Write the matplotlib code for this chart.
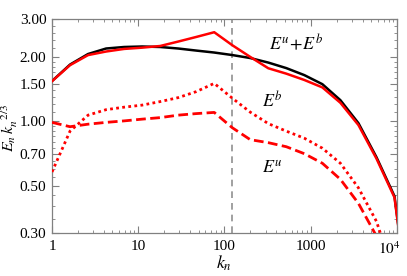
import numpy as np
import matplotlib
matplotlib.use("Agg")
import matplotlib.pyplot as plt
import matplotlib.transforms as mtransforms
from matplotlib.ticker import FixedLocator, NullFormatter

plt.rcParams['font.family'] = ['Liberation Serif', 'DejaVu Serif']
plt.rcParams['mathtext.fontset'] = 'stix'

phi = (1 + 5 ** 0.5) / 2
n = np.arange(0, 21)
k = phi ** n

total_black = [1.542, 1.842, 2.064, 2.19, 2.226, 2.238, 2.226, 2.19, 2.142, 2.097, 2.041,
               1.976, 1.882, 1.773, 1.644, 1.491, 1.255, 0.980, 0.679, 0.446, 0.102]
total_red = [1.54, 1.83, 2.04, 2.12, 2.18, 2.21, 2.25, 2.36, 2.48, 2.61, 2.27,
             2.00, 1.77, 1.67, 1.56, 1.44, 1.22, 0.96, 0.669, 0.44, 0.10]
mag_red = [0.579, 0.899, 1.068, 1.133, 1.164, 1.19, 1.236, 1.29, 1.376, 1.504, 1.283,
           1.103, 0.975, 0.899, 0.833, 0.748, 0.636, 0.488, 0.340, 0.19, 0.06]
kin_red = [0.988, 0.943, 0.969, 0.988, 1.004, 1.023, 1.04, 1.068, 1.086, 1.10, 0.933,
           0.82, 0.794, 0.76, 0.705, 0.636, 0.535, 0.413, 0.29, 0.15, 0.04]

k_line = phi ** 10

yticks = [0.30, 0.50, 0.70, 1.00, 1.50, 2.00, 3.00]
ytick_labels = ["0.30", "0.50", "0.70", "1.00", "1.50", "2.00", "3.00"]
xticks = [1, 10, 100, 1000, 10000]
xtick_labels = ["1", "10", "100", "1000", r"$10^4$"]

fig = plt.figure(figsize=(4.07, 2.76), dpi=100)
ax = fig.add_axes([52/407, 1-233/276, (397-52)/407, (233-19.3)/276])
ax.set_xscale('log')
ax.set_yscale('log')
ax.set_xlim(1, 1e4)
ax.set_ylim(0.3, 3.0)

ax.axvline(k_line, color='#909090', lw=1.2, ls=(0, (4, 3)), zorder=1)
ax.plot(k, total_black, color='black', lw=1.8, zorder=2)
ax.plot(k, total_red, color='red', lw=1.8, zorder=3)
ax.plot(k, mag_red, color='red', lw=2.0, ls=(0, (1, 1.2)), zorder=3)
ax.plot(k, kin_red, color='red', lw=2.0, ls=(0, (3.5, 1.6)), zorder=3)

ax.text(680, 2.32, r"$E^u\!+\!E^b$", fontsize=13, ha='center', va='center')
ax.text(356, 1.24, r"$E^b$", fontsize=13, ha='center', va='center')
ax.text(356, 0.60, r"$E^u$", fontsize=13, ha='center', va='center')

ax.yaxis.set_major_locator(FixedLocator(yticks))
ax.set_yticklabels(ytick_labels)
ymin = [0.35, 0.4, 0.45, 0.55, 0.6, 0.65, 0.75, 0.8, 0.85, 0.9, 0.95,
        1.1, 1.2, 1.3, 1.4, 1.6, 1.7, 1.8, 1.9, 2.2, 2.4, 2.6, 2.8]
ax.yaxis.set_minor_locator(FixedLocator(ymin))
ax.yaxis.set_minor_formatter(NullFormatter())
ax.xaxis.set_major_locator(FixedLocator(xticks))
ax.set_xticklabels(xtick_labels)
xmin = [m * 10 ** d for d in range(4) for m in range(2, 10)]
ax.xaxis.set_minor_locator(FixedLocator(xmin))
ax.xaxis.set_minor_formatter(NullFormatter())

for s in ax.spines.values():
    s.set_color('#808080')
    s.set_linewidth(0.9)
ax.tick_params(which='both', direction='in', top=True, right=True, colors='#808080',
               labelcolor='black', labelsize=11)
ax.tick_params(which='major', length=5, width=0.8)
ax.tick_params(which='minor', length=2.5, width=0.6)
ax.tick_params(axis='x', pad=5)
ax.tick_params(axis='y', pad=4)

last = ax.get_xticklabels()[-1]
last.set_transform(last.get_transform() +
                   mtransforms.ScaledTranslation(-8/100, 0, fig.dpi_scale_trans))

fig.text(224/407, 1-263/276, r"$k_n$", fontsize=13, ha='center', va='center')
fig.text(10/407, 1-128/276, r"$E_n\,k_n^{\ \ 2/3}$", fontsize=11.5, ha='center', va='center',
         rotation=90)

fig.savefig("out.png", dpi=100)
